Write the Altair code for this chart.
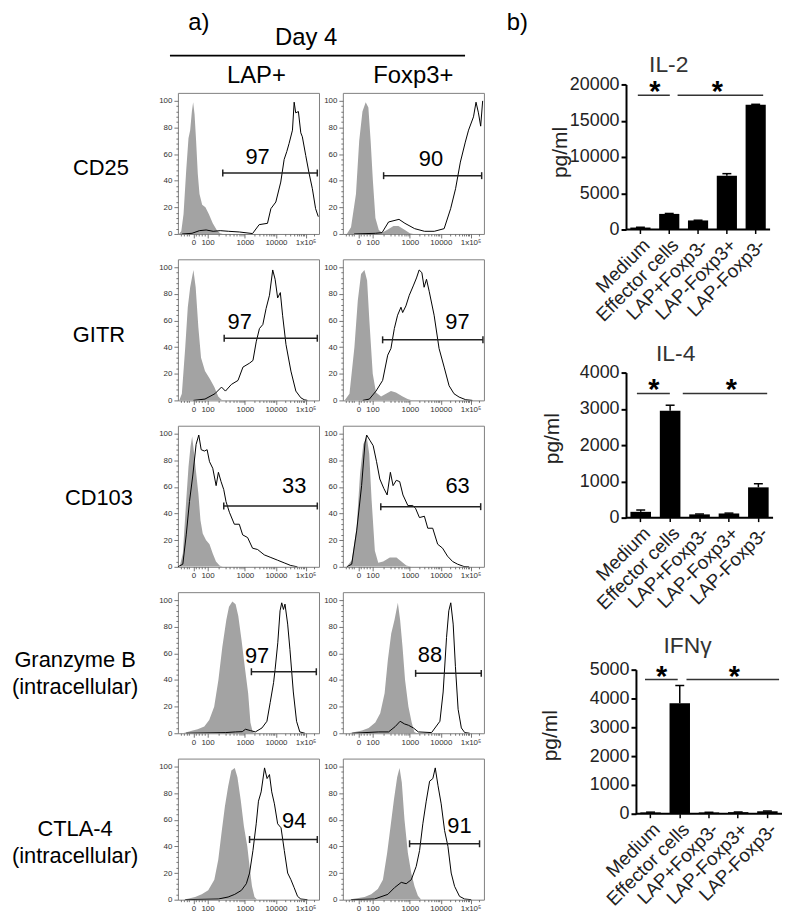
import math
import altair as alt
import pandas as pd

FONT = "Liberation Sans"

# ---------------- text content ----------------
PANEL_LETTERS = ["a)", "b)"]
TIMEPOINT = "Day 4"
GROUPS = ["LAP+", "Foxp3+"]
MARKERS = [["CD25"], ["GITR"], ["CD103"], ["Granzyme B", "(intracellular)"], ["CTLA-4", "(intracellular)"]]

# flow axis: channel position (0-100 across the plot) of each labelled decade
X_TICK_LABELS = ["0", "100", "1000", "10000", "1x10⁵"]
X_TICK_POS = [11, 21, 47.5, 69.5, 90.5]

# ---------------- panel a: histograms (channel position, % of max) ----------------
cd25_lap_iso = [(0.7, 0), (2.4, 2), (4, 15), (5.9, 48), (7.5, 72), (8.7, 78), (9.9, 92), (10.8, 99), (11.8, 90), (12.9, 70), (14.1, 45), (15.3, 30), (17.2, 22), (19.5, 20), (21.9, 15), (24.7, 8), (27.5, 3), (29.9, 0.5), (31.8, 0)]
cd25_lap_stain = [(3, 0), (10, 0.5), (15.3, 2.5), (20, 3), (25, 2), (30, 2.5), (36, 2), (43.5, 1.5), (52.9, 0.3), (57.6, 7), (63.5, 8), (65.9, 19), (69.4, 24), (72.9, 39), (75.3, 56), (77.2, 62), (78.8, 68), (81.2, 78), (82.4, 99), (83.5, 91), (85.4, 92), (87.1, 76), (88.2, 73), (90.6, 59), (92.9, 46), (95.3, 34), (97.6, 19), (99.5, 13)]
cd25_fox_iso = [(2.8, 0), (5.8, 5), (9.3, 30), (11.6, 70), (13.9, 92), (16.2, 99), (18.1, 95), (19.7, 70), (21.3, 40), (23.1, 12), (25.5, 3), (27.8, 1), (31.3, 3), (35.9, 6), (39.4, 6), (44, 3), (47.5, 0.5), (49.8, 0)]
cd25_fox_stain = [(8, 0), (23.1, 0.5), (27.8, 1), (32.4, 9), (39.8, 11), (44, 8), (50.9, 4), (57.9, 2), (64.8, 2), (71.8, 4), (76.4, 19), (79.9, 34), (83.3, 54), (86.8, 69), (89.1, 78), (92.6, 88), (94.4, 99), (96.1, 91), (97.7, 81), (99.1, 100)]

gitr_lap_iso = [(0.9, 0), (2.8, 5), (5.2, 40), (7, 70), (8.7, 85), (11, 98), (12.6, 85), (14.5, 55), (16.4, 32), (19.2, 22), (22.7, 16), (25.8, 10), (28.6, 3), (30.9, 0.5), (33, 0)]
gitr_lap_stain = [(11, 0), (19.2, 1), (26.2, 5), (30.9, 10), (33.7, 7), (37.9, 12), (42.6, 15), (46.1, 25), (50.8, 28), (53.2, 30), (55.5, 44), (57.8, 54), (60.2, 57), (62.5, 69), (64.9, 79), (67.2, 98), (68.9, 91), (70.7, 77), (72.6, 81), (74.2, 64), (76.6, 42), (80.1, 22), (83.6, 7), (87.1, 2), (89.5, 0.5), (91.8, 0)]
gitr_fox_iso = [(1.2, 0), (4.7, 5), (8.2, 40), (10.6, 75), (12.9, 95), (15.3, 98), (17.2, 90), (18.8, 60), (21.2, 20), (23.5, 6), (27.1, 3), (30.6, 5), (34.1, 7), (37.6, 6), (42.4, 3), (45.9, 1), (49.4, 0)]
gitr_fox_stain = [(14.1, 0), (18.8, 1), (23.5, 7), (28.2, 15), (31.8, 34), (34.1, 39), (36.5, 54), (38.8, 64), (41.2, 70), (42.4, 66), (44.7, 71), (47.1, 79), (49.9, 86), (52.2, 92), (54.1, 98), (56, 96), (57.6, 85), (59.3, 91), (61.2, 82), (64.7, 64), (68.2, 39), (71.8, 25), (75.3, 11), (78.8, 5), (82.4, 2.5), (87.1, 0.5), (91.8, 0)]

cd103_lap_iso = [(1.2, 0), (3.5, 10), (5.9, 50), (7.5, 75), (8.9, 90), (10.1, 98), (11.5, 85), (13, 70), (14.5, 55), (16, 35), (17.6, 25), (20, 20), (22.4, 17), (24.7, 10), (27, 4), (29.5, 1), (31.8, 0)]
cd103_lap_stain = [(0, 0), (3.5, 2), (5.9, 24), (8.2, 49), (10.6, 69), (12.9, 92), (14.8, 99), (16.5, 88), (18.8, 87), (20.7, 88), (22.4, 79), (24.7, 74), (27.1, 61), (28.7, 71), (30.6, 64), (32.5, 58), (34.1, 49), (36.5, 41), (40, 32), (43.5, 32), (45.9, 24), (49.4, 22), (52.9, 14), (56.5, 13), (61.2, 9), (65.9, 7), (70.6, 5), (75.3, 3), (80, 1), (84.7, 0)]
cd103_fox_iso = [(2.8, 0), (6.3, 5), (9.8, 30), (12.2, 70), (14.5, 92), (16.9, 98), (18.7, 85), (20.4, 50), (22.7, 12), (25.1, 3), (28.6, 4), (33.3, 7), (38, 7), (41.5, 4), (45, 1), (48.5, 0)]
cd103_fox_stain = [(2.8, 0), (6.3, 2), (9.8, 27), (13.3, 61), (15.7, 93), (16.9, 99), (19.2, 95), (21.5, 91), (23.9, 79), (26.2, 66), (29, 59), (31.4, 54), (33.7, 71), (35.6, 61), (37.9, 65), (40.3, 64), (42.6, 54), (46.1, 46), (49.6, 46), (51.5, 44), (54.3, 37), (57.8, 38), (60.2, 29), (63.7, 29), (67.2, 17), (70.7, 14), (74.2, 8), (77.8, 4), (81.3, 2), (85.9, 0.2), (89.5, 0)]

gzmb_lap_iso = [(3.5, 0), (10.5, 2), (14, 3), (18.7, 5), (22.2, 10), (25.7, 20), (28.7, 40), (31.5, 65), (34.3, 85), (36.2, 95), (38.6, 99), (40.9, 97), (42.8, 88), (45.1, 70), (47.4, 50), (49.8, 30), (51.4, 8), (53, 1), (54.9, 0)]
gzmb_lap_stain = [(5.8, 0), (33.9, 0.5), (40.9, 1), (45.6, 1.2), (47.9, 3), (51.4, 2), (54.9, 1), (59.6, 4), (63.1, 9), (65.4, 23), (67.8, 38), (68.9, 48), (70.8, 68), (72.4, 92), (73.6, 98), (74.8, 93), (75.9, 97), (77.8, 82), (79.4, 63), (81.8, 31), (84.1, 9), (86.4, 1), (90, 0)]
gzmb_fox_iso = [(4.2, 0), (13.6, 2), (18.3, 4), (23, 8), (26.5, 15), (29.6, 30), (31.9, 55), (34.3, 75), (36.6, 85), (39, 98), (40.6, 85), (42.3, 65), (44.1, 40), (46.5, 20), (48.8, 8), (50.7, 1), (52.3, 0)]
gzmb_fox_stain = [(6.6, 0), (25.4, 1), (32.4, 1), (37.1, 5), (40.6, 9), (43.7, 7), (46.5, 6), (50, 4), (53.5, 1), (62.9, 0.5), (68.8, 9), (71.1, 31), (73.5, 72), (75.1, 92), (76.5, 98), (78.2, 82), (79.8, 50), (81.7, 18), (84, 4), (86.4, 0.5), (89.9, 0)]

ctla4_lap_iso = [(4, 0), (12.2, 2), (16.9, 4), (21.5, 7), (25.8, 15), (28.6, 30), (30.9, 50), (33.3, 70), (35.6, 85), (37.9, 97), (40.3, 99), (42.2, 92), (44.5, 75), (46.8, 55), (49.2, 40), (50.8, 25), (52.5, 10), (54.3, 2), (56.2, 0)]
ctla4_lap_stain = [(5.2, 0), (28.6, 0.5), (35.6, 2), (40.3, 4), (45, 7), (48.5, 12), (50.8, 20), (53.2, 37), (55.5, 57), (57.1, 74), (59, 81), (61.4, 99), (63.2, 91), (64.9, 94), (66.5, 81), (68.4, 72), (70.7, 57), (73.1, 54), (75.4, 37), (77.8, 20), (80.1, 15), (82.4, 9), (84.8, 2.5), (87.1, 0.5), (91.8, 0)]
ctla4_fox_iso = [(3.5, 0), (15.4, 2), (20.1, 4), (24.8, 8), (28.4, 15), (31.4, 35), (33.8, 55), (36.2, 75), (38.5, 92), (40.2, 99), (41.8, 88), (43.7, 60), (46.1, 35), (48.5, 20), (50.8, 10), (53.2, 3), (55.6, 0)]
ctla4_fox_stain = [(5.9, 0), (22.5, 0.5), (31.9, 4), (36.6, 9), (41.4, 13), (44.9, 12), (48.5, 15), (52, 25), (54.4, 37), (56.7, 57), (59.1, 74), (61.5, 89), (63.8, 91), (65.5, 99), (67.4, 86), (69.7, 72), (72.1, 52), (74.5, 40), (76.8, 20), (79.2, 10), (82.7, 2.5), (86.3, 0.5), (91, 0)]

ISO = [[cd25_lap_iso, cd25_fox_iso], [gitr_lap_iso, gitr_fox_iso], [cd103_lap_iso, cd103_fox_iso],
       [gzmb_lap_iso, gzmb_fox_iso], [ctla4_lap_iso, ctla4_fox_iso]]
STAIN = [[cd25_lap_stain, cd25_fox_stain], [gitr_lap_stain, gitr_fox_stain], [cd103_lap_stain, cd103_fox_stain],
         [gzmb_lap_stain, gzmb_fox_stain], [ctla4_lap_stain, ctla4_fox_stain]]

# gates (row-major: LAP+, Foxp3+ per row)
GATE_PCT = ["97", "90", "97", "97", "33", "63", "97", "88", "94", "91"]
GATE_X0 = [31.8, 28.9, 32.8, 28.2, 32.5, 26.9, 52.1, 51.6, 50.8, 47.3]
GATE_X1 = [98.8, 98.4, 98.8, 99.3, 98.8, 97.7, 98.1, 98.1, 98.8, 96.9]
GATE_Y = [45.8, 43.8, 46.7, 45.5, 45.7, 45.2, 46.2, 45.0, 45.2, 42.0]
PCT_X = [56.5, 62.5, 43.8, 81.2, 82.4, 81.3, 56.1, 61.7, 82.4, 82.7]
PCT_Y = [58, 56, 59, 59, 61, 61, 58, 59, 59, 55.6]

# ---------------- panel b: cytokines (pg/ml) ----------------
CONDITIONS = ["Medium", "Effector cells", "LAP+Foxp3-", "LAP-Foxp3+", "LAP-Foxp3-"]
CYTOKINES = ["IL-2", "IL-4", "IFNγ"]
il2_mean = [270, 2150, 1250, 7400, 17200]
il2_err = [40, 60, 30, 300, 60]
il4_mean = [160, 2950, 90, 115, 835]
il4_err = [50, 150, 10, 10, 100]
ifng_mean = [45, 3830, 45, 55, 85]
ifng_err = [10, 620, 5, 5, 10]
# significance bars: start, end (in bar slots, 0-5), height, star position
il2_sig = [(0.41, 1.52, 18500, 1.0), (1.79, 4.76, 18500, 3.17)]
il4_sig = [(0.37, 1.49, 3425, 0.95), (1.93, 4.80, 3425, 3.58)]
ifng_sig = [(0.31, 1.43, 4655, 0.88), (1.73, 4.90, 4655, 3.37)]

# ---------------- histogram axes ----------------
x_minor = [2, 4, 6, 8, 13, 15, 17, 19]
for k in range(2, 10):
    x_minor.append(round(21 + 26.5 * math.log10(k), 2))
    x_minor.append(round(47.5 + 22 * math.log10(k), 2))
    x_minor.append(round(69.5 + 21 * math.log10(k), 2))
x_minor.append(round(90.5 + 21 * math.log10(2), 2))
X_VALUES = sorted(set(X_TICK_POS + x_minor))
x_label_expr = "".join(f"datum.value == {p} ? '{l}' : " for p, l in zip(X_TICK_POS, X_TICK_LABELS)) + "''"
x_major_test = " || ".join(f"datum.value == {p}" for p in X_TICK_POS)

HX = dict(values=X_VALUES, labelExpr=x_label_expr,
          tickSize={"condition": {"test": x_major_test, "value": 4}, "value": 2},
          labelFontSize=8, labelColor="#333", tickColor="#555", tickWidth=0.8,
          domain=False, grid=False, labelFlush=False, labelOverlap=False, labelPadding=1, title=None)
HY = dict(values=list(range(0, 101, 4)), labelExpr="datum.value % 20 == 0 ? '' + datum.value : ''",
          tickSize={"condition": {"test": "datum.value % 20 == 0", "value": 4}, "value": 2},
          labelFontSize=8, labelColor="#333", tickColor="#555", tickWidth=0.8,
          domain=False, grid=False, labelOverlap=False, labelPadding=2, labelFlush=False)

PW = 142
PH = 142
ROW_LABEL_X = [-78, -80, -80, -104, -104]
ROW_LABEL_Y = [75, 75.5, 72, 67.5, 70]


def hist_panel(r, c):
    i = 2 * r + c
    xs = alt.Scale(domain=[0, 100], nice=False, zero=False)
    ys = alt.Scale(domain=[0, 106], nice=False)
    if c == 0:
        yaxis = alt.Axis(**HY, title=MARKERS[r], titleAngle=0, titleAlign="center",
                         titleBaseline="middle", titleX=ROW_LABEL_X[r], titleY=ROW_LABEL_Y[r],
                         titleFontSize=22, titleColor="black", titleFontWeight="normal",
                         titleLineHeight=28, titleFont=FONT)
    else:
        yaxis = alt.Axis(**HY, title=None)
    xaxis = alt.Axis(**HX)

    def X(f):
        return alt.X(f, type="quantitative", scale=xs, axis=xaxis)

    def Y(f):
        return alt.Y(f, type="quantitative", scale=ys, axis=yaxis)

    iso_df = pd.DataFrame(ISO[r][c], columns=["ch", "events"])
    st_df = pd.DataFrame(STAIN[r][c], columns=["ch", "events"])
    gate_df = pd.DataFrame({"x0": [GATE_X0[i]], "x1": [GATE_X1[i]], "y": [GATE_Y[i]]})
    cap_df = pd.DataFrame({"x": [GATE_X0[i], GATE_X1[i]], "y": [GATE_Y[i], GATE_Y[i]]})
    pct_df = pd.DataFrame({"x": [PCT_X[i]], "y": [PCT_Y[i]], "t": [GATE_PCT[i]]})

    area = alt.Chart(iso_df).mark_area(color="#a3a3a3", clip=True).encode(x=X("ch"), y=Y("events"))
    line = alt.Chart(st_df).mark_line(color="black", strokeWidth=1, clip=True).encode(x=X("ch"), y=Y("events"))
    gate = alt.Chart(gate_df).mark_rule(color="#222", strokeWidth=1.5).encode(x=X("x0"), x2="x1:Q", y=Y("y"))
    caps = alt.Chart(cap_df).mark_point(shape="M0,-1L0,1", size=49, filled=False, color="#222",
                                        strokeWidth=1.5, opacity=1).encode(x=X("x"), y=Y("y"))
    pct = alt.Chart(pct_df).mark_text(fontSize=22, color="black", baseline="middle").encode(
        x=X("x"), y=Y("y"), text="t:N")
    return alt.layer(area, line, gate, caps, pct).properties(
        width=PW, height=PH, view=alt.ViewBackground(stroke="#808080", strokeWidth=1))


# header cells of the histogram grid
hdr_df = pd.DataFrame({"letter": [PANEL_LETTERS[0]], "day": [TIMEPOINT], "g0": [GROUPS[0]], "g1": [GROUPS[1]]})
hA_letter = alt.Chart(hdr_df).mark_text(fontSize=24, baseline="top").encode(
    text="letter:N", x=alt.value(21), y=alt.value(0))
hA_day = alt.Chart(hdr_df).mark_text(fontSize=24, baseline="middle").encode(
    text="day:N", x=alt.value(129), y=alt.value(27))
hA_line = alt.Chart(hdr_df).mark_rule(color="black", strokeWidth=2).encode(
    x=alt.value(-8), x2=alt.value(289), y=alt.value(45))
hA_g0 = alt.Chart(hdr_df).mark_text(fontSize=24, baseline="middle").encode(
    text="g0:N", x=alt.value(79), y=alt.value(66))
headerL = alt.layer(hA_letter, hA_day, hA_line, hA_g0).properties(
    width=PW, height=56.5, view=alt.ViewBackground(stroke=None))
headerR = alt.Chart(hdr_df).mark_text(fontSize=24, baseline="middle").encode(
    text="g1:N", x=alt.value(71), y=alt.value(66)).properties(
    width=PW, height=56.5, view=alt.ViewBackground(stroke=None))

cells = [headerL, headerR]
for r in range(5):
    cells += [hist_panel(r, 0), hist_panel(r, 1)]
A = alt.concat(*cells, columns=2, spacing={"row": 25.5, "column": 24}, bounds="flush")


# ---------------- bar charts ----------------
def bar_panel(name, means, errs, ymax, ystep, sig, w, h, lead, name_x, name_y, ytx, yty):
    step = w / 5.0
    R = lead + w
    po = (R / step - 4.7) / 2
    al = (lead + 0.15 * step) / (R - 4.7 * step)
    df = pd.DataFrame({"cond": CONDITIONS, "mean": means, "err": errs})
    df["upper"] = df["mean"] + df["err"]
    ys = alt.Scale(domain=[0, ymax], nice=False)
    yaxis = alt.Axis(values=list(range(0, ymax + 1, ystep)), format="d", title="pg/ml", offset=-lead,
                     labelFontSize=18, labelColor="#222", tickSize=5, tickWidth=2, tickColor="black",
                     domainWidth=2, domainColor="black", labelPadding=2, grid=False,
                     titleFontSize=21, titleColor="#222", titleFontWeight="normal",
                     titleX=ytx, titleY=yty, titleAlign="center", titleBaseline="middle", titleAngle=-90)

    def Y(f):
        return alt.Y(f, type="quantitative", scale=ys, axis=yaxis)

    xaxis = alt.Axis(title=None, labelAngle=-45, labelFontSize=19, labelColor="#222", tickSize=4,
                     tickWidth=1.5, tickColor="black", domain=False, labelPadding=2)
    xb = alt.X("cond:N", sort=CONDITIONS,
               scale=alt.Scale(paddingInner=0.3, paddingOuter=po, align=al), axis=xaxis)
    bars = alt.Chart(df).mark_bar(color="black").encode(x=xb, y=Y("mean"))
    ebar = alt.Chart(df).mark_rule(color="black", strokeWidth=1.5).encode(x=xb, y=Y("mean"), y2="upper:Q")
    ecap = alt.Chart(df).mark_point(shape="M-1,0L1,0", size=81, filled=False, color="black",
                                    strokeWidth=1.5, opacity=1).encode(x=xb, y=Y("upper"))
    sig_df = pd.DataFrame(sig, columns=["x0", "x1", "y", "sx"])
    sig_df["star"] = "*"
    base_df = pd.DataFrame({"b0": [0], "b1": [5], "y": [0]})
    xs = alt.Scale(domain=[-lead / step, 5], nice=False, zero=False)
    baseline = alt.Chart(base_df).mark_rule(color="black", strokeWidth=2).encode(
        x=alt.X("b0:Q", scale=xs, axis=None), x2="b1:Q", y=Y("y"))
    srule = alt.Chart(sig_df).mark_rule(color="#333", strokeWidth=1.5).encode(
        x=alt.X("x0:Q", scale=xs, axis=None), x2="x1:Q", y=Y("y"))
    stars = alt.Chart(sig_df).mark_text(fontSize=29, fontWeight="bold", baseline="alphabetic", dy=6,
                                        color="black").encode(
        x=alt.X("sx:Q", scale=xs, axis=None), y=Y("y"), text="star:N")
    title = alt.Chart(pd.DataFrame({"name": [name]})).mark_text(
        fontSize=23, color="#333", baseline="alphabetic").encode(
        text="name:N", x=alt.value(name_x), y=alt.value(name_y))
    ch = alt.layer(alt.layer(bars, ebar, ecap), alt.layer(baseline, srule, stars, title)).resolve_scale(x="independent")
    return ch.properties(width=R, height=h, view=alt.ViewBackground(stroke=None))


il2 = bar_panel(CYTOKINES[0], il2_mean, il2_err, 20000, 5000, il2_sig, 145, 146, 0, 43, -13, -66, 68)
il4 = bar_panel(CYTOKINES[1], il4_mean, il4_err, 4000, 1000, il4_sig, 148, 146, 0, 50, -12, -74, 66)
ifng = bar_panel(CYTOKINES[2], ifng_mean, ifng_err, 5000, 1000, ifng_sig, 147, 145, 10, 62, -17, -86, 66)


def gap(h):
    return alt.Chart(pd.DataFrame({"v": [0]})).mark_rule(opacity=0).encode(
        x=alt.value(0), y=alt.value(0), y2=alt.value(1)).properties(
        width=1, height=h, view=alt.ViewBackground(stroke=None))


hB = alt.Chart(pd.DataFrame({"letter": [PANEL_LETTERS[1]]})).mark_text(
    fontSize=24, baseline="top", align="left").encode(
    text="letter:N", x=alt.value(-120), y=alt.value(0)).properties(
    width=145, height=74, view=alt.ViewBackground(stroke=None))

B = alt.vconcat(hB, il2, gap(144), il4, gap(153), ifng, spacing=0, bounds="flush")

chart = alt.hconcat(A, B, spacing=20).properties(
    padding={"left": 2, "top": 0, "right": 0, "bottom": 0}
).configure(font=FONT).configure_view(stroke=None).configure_axis(labelFont=FONT, titleFont=FONT)

chart.save("out.html", embed_options={"renderer": "svg", "actions": False})
